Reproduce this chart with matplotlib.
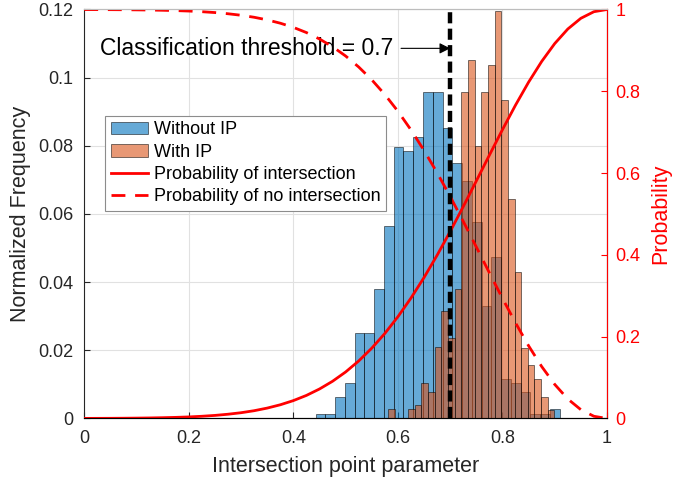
import matplotlib
matplotlib.use("Agg")
import matplotlib.pyplot as plt
import numpy as np

plt.rcParams["font.family"] = ["Liberation Sans", "DejaVu Sans"]

# Histogram data (25 equal-width bins each, normalized frequency)
without_ip_range = (0.4424, 0.9097)
without_ip_freq = [
    0.0012, 0.0012, 0.0064, 0.0103, 0.0250, 0.0250, 0.0380, 0.0566, 0.0798,
    0.0786, 0.0827, 0.0958, 0.0958, 0.0853, 0.0749, 0.0697, 0.0577, 0.0330,
    0.0473, 0.0115, 0.0103, 0.0078, 0.0012, 0.0012, 0.0027,
]
with_ip_range = (0.5811, 0.8995)
with_ip_freq = [
    0.0027, 0.0, 0.0, 0.0027, 0.0040, 0.0105, 0.0079, 0.0210, 0.0315,
    0.0235, 0.0379, 0.0959, 0.1051, 0.0800, 0.0959, 0.1037, 0.1197, 0.0933,
    0.0644, 0.0431, 0.0208, 0.0157, 0.0116, 0.0064, 0.0025,
]

# Probability curves, read at steps of 0.025
ip_param = np.linspace(0, 1, 41)
p_intersection = [
    0.0002, 0.0003, 0.0004, 0.0006, 0.0009, 0.0013, 0.0019, 0.0027, 0.0038,
    0.0054, 0.0075, 0.0104, 0.0141, 0.0190, 0.0254, 0.0335, 0.0437, 0.0564,
    0.0721, 0.0910, 0.1137, 0.1406, 0.1719, 0.2079, 0.2488, 0.2944, 0.3447,
    0.3991, 0.4572, 0.5181, 0.5807, 0.6439, 0.7062, 0.7662, 0.8223, 0.8729,
    0.9167, 0.9523, 0.9785, 0.9946, 1.0,
]
p_no_intersection = [
    0.9998, 0.9997, 0.9996, 0.9994, 0.9991, 0.9987, 0.9981, 0.9973, 0.9962,
    0.9946, 0.9925, 0.9896, 0.9859, 0.9810, 0.9746, 0.9665, 0.9563, 0.9436,
    0.9279, 0.9090, 0.8863, 0.8594, 0.8281, 0.7921, 0.7512, 0.7056, 0.6553,
    0.6009, 0.5428, 0.4819, 0.4193, 0.3561, 0.2938, 0.2338, 0.1777, 0.1271,
    0.0833, 0.0477, 0.0215, 0.0054, 0.0,
]

threshold = 0.7
threshold_label = "Classification threshold = 0.7"

txt = "#262626"
blue = (0.0, 0.447, 0.741)
orange = (0.85, 0.325, 0.098)

fig = plt.figure(figsize=(6.74, 4.87), dpi=100)
ax = fig.add_axes([0.125, 0.1407, 0.7756, 0.8398])

# %% histograms
b_edges = np.linspace(*without_ip_range, len(without_ip_freq) + 1)
o_edges = np.linspace(*with_ip_range, len(with_ip_freq) + 1)
h_blue = ax.bar(b_edges[:-1], without_ip_freq, width=np.diff(b_edges), align="edge",
                color=blue, alpha=0.6, edgecolor="black", linewidth=0.6,
                label="Without IP", zorder=2)
h_orange = ax.bar(o_edges[:-1], with_ip_freq, width=np.diff(o_edges), align="edge",
                  color=orange, alpha=0.6, edgecolor="black", linewidth=0.6,
                  label="With IP", zorder=3)

ax.set_xlim(0, 1)
ax.set_ylim(0, 0.12)
ax.set_xticks(np.arange(0, 1.01, 0.2))
ax.set_xticklabels(["0", "0.2", "0.4", "0.6", "0.8", "1"])
ax.set_yticks(np.arange(0, 0.121, 0.02))
ax.set_yticklabels(["0", "0.02", "0.04", "0.06", "0.08", "0.1", "0.12"])
ax.grid(True, color="#e1e1e1", linewidth=0.8, zorder=0)
ax.set_axisbelow(True)
ax.tick_params(direction="in", labelsize=13, colors=txt, length=4, top=False)
ax.tick_params(axis="x", pad=8)
ax.tick_params(axis="y", pad=8)
ax.set_xlabel("Intersection point parameter", fontsize=15.5, color=txt, labelpad=7)
ax.set_ylabel("Normalized Frequency", fontsize=15.5, color=txt, labelpad=5)
for s in ["left", "bottom"]:
    ax.spines[s].set_color("#262626")
ax.spines["top"].set_color("#bdbdbd")

# %% probability curves
ax2 = ax.twinx()
l1, = ax2.plot(ip_param, p_intersection, color="red", lw=2,
               label="Probability of intersection")
l2, = ax2.plot(ip_param, p_no_intersection, color="red", lw=2, ls=(0, (5, 3.5)),
               label="Probability of no intersection")
ax2.set_ylim(0, 1)
ax2.set_yticks(np.arange(0, 1.01, 0.2))
ax2.set_yticklabels(["0", "0.2", "0.4", "0.6", "0.8", "1"])
ax2.tick_params(direction="in", labelsize=13, colors="red", length=4, pad=6)
ax2.set_ylabel("Probability", fontsize=15.5, color="red", labelpad=7)
ax2.spines["right"].set_color("red")
ax2.spines["left"].set_visible(False)
ax2.spines["top"].set_color("#bdbdbd")

# threshold line and annotation
ax2.axvline(threshold, color="black", lw=3.2, ls=(0, (2.5, 1.2)), zorder=5)
ax.text(0.03, 0.1085, threshold_label, fontsize=16.5, color="black",
        va="center", ha="left", zorder=6)
ax2.annotate("", xy=(threshold, 0.905), xytext=(0.606, 0.905),
             arrowprops=dict(arrowstyle="-|>", color="black", lw=0.8,
                             mutation_scale=16, shrinkA=0, shrinkB=0))

leg = ax2.legend([h_blue, h_orange, l1, l2],
                 ["Without IP", "With IP", "Probability of intersection",
                  "Probability of no intersection"],
                 loc="upper left", bbox_to_anchor=(0.04, 0.74), borderaxespad=0,
                 fontsize=13, fancybox=False, framealpha=1, edgecolor="#8c8c8c",
                 handlelength=2.1, handletextpad=0.3, labelspacing=0.3,
                 borderpad=0.3)
leg.get_frame().set_linewidth(0.8)

fig.savefig("out.png", dpi=100)
